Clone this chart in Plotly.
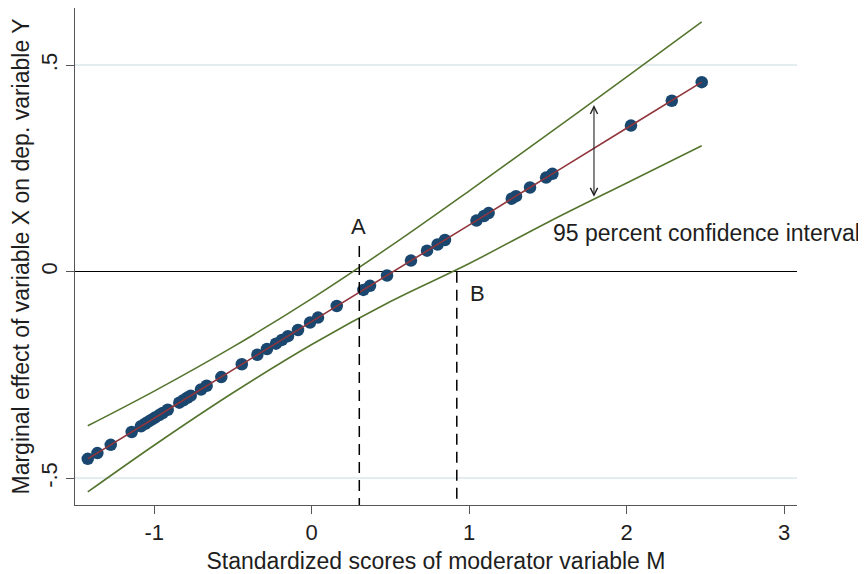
import plotly.graph_objects as go

m_scores = [-1.422, -1.361, -1.276, -1.143, -1.084, -1.058, -1.037, -1.016, -0.995,
            -0.968, -0.946, -0.914, -0.841, -0.815, -0.790, -0.768, -0.703, -0.667,
            -0.574, -0.444, -0.345, -0.284, -0.227, -0.189, -0.151, -0.087, -0.011,
            0.040, 0.159, 0.328, 0.370, 0.478, 0.630, 0.732, 0.799, 0.846, 1.046,
            1.094, 1.123, 1.270, 1.297, 1.386, 1.488, 1.528, 2.027, 2.286, 2.476]
marg_effect = [-0.453, -0.439, -0.419, -0.388, -0.374, -0.368, -0.363, -0.358, -0.353,
               -0.347, -0.342, -0.334, -0.317, -0.311, -0.305, -0.300, -0.285, -0.276,
               -0.255, -0.224, -0.201, -0.187, -0.174, -0.165, -0.156, -0.141, -0.123,
               -0.111, -0.083, -0.044, -0.034, -0.009, 0.027, 0.051, 0.066, 0.077, 0.124,
               0.135, 0.142, 0.177, 0.183, 0.204, 0.228, 0.237, 0.354, 0.414, 0.459]

# 95% confidence band
ci_x = [-1.422, -1.0, -0.5, 0.0, 0.5, 1.0, 1.5, 2.0, 2.476]
ci_upper = [-0.373, -0.289, -0.182, -0.065, 0.062, 0.196, 0.333, 0.472, 0.605]
ci_lower = [-0.533, -0.420, -0.293, -0.176, -0.072, 0.020, 0.120, 0.215, 0.305]

# reference markers
point_a_x = 0.302
point_a_top = 0.0625
point_b_x = 0.921
point_b_top = 0.0
arrow_x = 1.792
arrow_top = 0.4035
arrow_bottom = 0.178

x_range = [-1.503, 3.081]
y_range = [-0.5647, 0.6386]
x_ticks = [-1, 0, 1, 2, 3]
x_ticktext = ["-1", "0", "1", "2", "3"]
y_ticks = [-0.5, 0, 0.5]
y_ticktext = ["-.5", "0", ".5"]

FONT = "Liberation Sans, Arial, sans-serif"
TXT = "#1e1e1e"
AXC = "#555555"
GREEN = "#55752f"
RED = "#90353b"
NAVY = "#1a476f"

fig = go.Figure()
fig.add_trace(go.Scatter(x=ci_x, y=ci_upper, mode="lines", line=dict(color=GREEN, width=1.6, shape="spline"), hoverinfo="skip"))
fig.add_trace(go.Scatter(x=ci_x, y=ci_lower, mode="lines", line=dict(color=GREEN, width=1.6, shape="spline"), hoverinfo="skip"))
fig.add_trace(go.Scatter(x=m_scores, y=marg_effect, mode="markers",
                         marker=dict(color=NAVY, size=12.5, line=dict(width=0))))
fig.add_trace(go.Scatter(x=m_scores, y=marg_effect, mode="lines", line=dict(color=RED, width=1.6)))

# dashed reference lines
fig.add_trace(go.Scatter(x=[point_a_x, point_a_x], y=[point_a_top, y_range[0]], mode="lines",
                         line=dict(color="black", width=1.5, dash="11px,7px")))
fig.add_trace(go.Scatter(x=[point_b_x, point_b_x], y=[point_b_top, y_range[0]], mode="lines",
                         line=dict(color="black", width=1.5, dash="11px,7px")))

fig.add_annotation(x=point_a_x - 0.002, y=0.109, text="A", showarrow=False,
                   font=dict(family=FONT, size=22, color=TXT))
fig.add_annotation(x=1.053, y=-0.052, text="B", showarrow=False,
                   font=dict(family=FONT, size=22, color=TXT))
fig.add_annotation(x=1.518, y=0.094, text="95 percent confidence interval", showarrow=False,
                   xanchor="left", font=dict(family=FONT, size=23, color=TXT))
fig.add_annotation(x=arrow_x, y=arrow_top, ax=arrow_x, ay=arrow_bottom, axref="x", ayref="y",
                   xref="x", yref="y", text="", showarrow=True, arrowside="end+start",
                   arrowhead=5, startarrowhead=5, arrowsize=1.3, startarrowsize=1.3,
                   arrowwidth=1.1, arrowcolor="#222222")

# The page body adds an 8px offset, so the figure is sized to fit the window
fig.update_layout(
    width=858, height=566,
    margin=dict(l=67, r=69, t=0, b=68.5),
    paper_bgcolor="white", plot_bgcolor="white",
    showlegend=False,
    font=dict(family=FONT, color=TXT),
    xaxis=dict(range=x_range, tickvals=x_ticks, ticktext=x_ticktext, ticks="outside",
               ticklen=8, tickcolor=AXC, automargin=False,
               tickwidth=1, showline=True, linecolor=AXC, linewidth=1, showgrid=False,
               zeroline=False, tickfont=dict(size=22, color=TXT),
               title=dict(text="Standardized scores of moderator variable M",
                          font=dict(size=23, color=TXT), standoff=10)),
    yaxis=dict(range=y_range, tickvals=y_ticks, ticktext=y_ticktext, tickangle=-90,
               automargin=False,
               ticks="outside", ticklen=8, tickcolor=AXC, tickwidth=1, showline=True,
               linecolor=AXC, linewidth=1, showgrid=True, gridcolor="#e3edef", gridwidth=1.5,
               zeroline=True, zerolinecolor="black", zerolinewidth=1,
               tickfont=dict(size=22, color=TXT),
               title=dict(text="Marginal effect of variable X on dep. variable Y",
                          font=dict(size=23, color=TXT), standoff=3)),
)

fig.write_html("out.html")
